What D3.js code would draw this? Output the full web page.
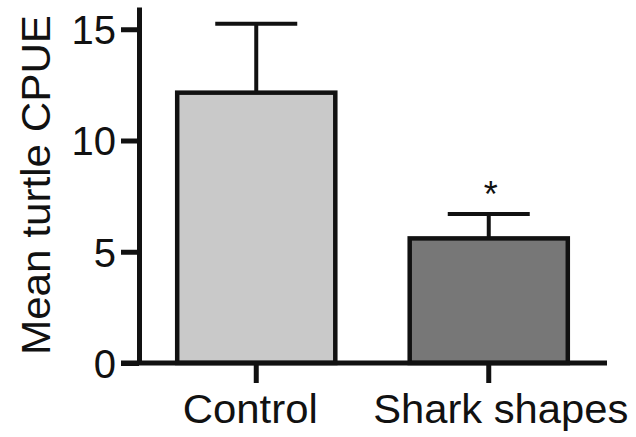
<!DOCTYPE html>
<html>
  <head>
    <meta charset="utf-8">
    <script src="https://d3js.org/d3.v7.min.js"></script>
    <style>
      body { margin: 0; background: #fff; }
      text { font-family: "Liberation Sans", Arial, sans-serif; fill: #111; }
    </style>
  </head>
<body>
  <script type="text/javascript">
    // values
    var groups = ["Control", "Shark shapes"];
    var means = [12.15, 5.6];
    var errs = [3.1, 1.1];
    var marks = ["", "*"];
    var yTicks = [0, 5, 10, 15];

    var fills = ["#c9c9c9", "#777777"];

    var width = 636, height = 437;

    var svg = d3.select("body")
      .append("svg")
        .attr("width", width)
        .attr("height", height);

    var y = d3.scaleLinear().domain([0, 16]).range([363, 7]);
    var x = d3.scaleBand().domain(groups).range([140, 605])
      .paddingInner(0.32).paddingOuter(0.16);

    var data = groups.map(function (g, i) {
      return { g: g, m: means[i], e: errs[i], mark: marks[i], fill: fills[i] };
    });

    // error bars (drawn first, bar covers lower part)
    var eb = svg.append("g").attr("stroke", "#111").attr("stroke-width", 4).attr("fill", "none");
    eb.selectAll(".stem").data(data).enter().append("line")
      .attr("x1", function (d) { return x(d.g) + x.bandwidth() / 2; })
      .attr("x2", function (d) { return x(d.g) + x.bandwidth() / 2; })
      .attr("y1", function (d) { return y(d.m); })
      .attr("y2", function (d) { return y(d.m + d.e); });
    eb.selectAll(".cap").data(data).enter().append("line")
      .attr("x1", function (d) { return x(d.g) + x.bandwidth() / 2 - 41; })
      .attr("x2", function (d) { return x(d.g) + x.bandwidth() / 2 + 41; })
      .attr("y1", function (d) { return y(d.m + d.e); })
      .attr("y2", function (d) { return y(d.m + d.e); });

    // bars
    svg.selectAll(".bar").data(data).enter().append("rect")
      .attr("x", function (d) { return x(d.g); })
      .attr("y", function (d) { return y(d.m); })
      .attr("width", x.bandwidth())
      .attr("height", function (d) { return y(0) - y(d.m); })
      .attr("fill", function (d) { return d.fill; })
      .attr("stroke", "#111")
      .attr("stroke-width", 4.5);

    // significance marks
    svg.selectAll(".mark").data(data).enter().append("text")
      .attr("x", function (d) { return x(d.g) + x.bandwidth() / 2 + 2; })
      .attr("y", function (d) { return y(d.m + d.e) - 7; })
      .attr("text-anchor", "middle")
      .style("font-size", "36px")
      .text(function (d) { return d.mark; });

    // y axis
    var yAxis = svg.append("g")
      .attr("transform", "translate(139,0)")
      .call(d3.axisLeft(y).tickValues(yTicks).tickSize(18).tickSizeOuter(0).tickPadding(5));
    yAxis.select(".domain").attr("stroke", "#111").attr("stroke-width", 5);
    yAxis.selectAll(".tick line").attr("stroke", "#111").attr("stroke-width", 5);
    yAxis.selectAll(".tick text")
      .style("font-size", "40px")
      .attr("fill", "#111")
      .attr("dy", "0.36em")
      .attr("font-family", null);

    // x axis
    var xAxis = svg.append("g")
      .attr("transform", "translate(0," + y(0) + ")")
      .call(d3.axisBottom(x).tickSize(20).tickSizeOuter(0).tickPadding(12));
    xAxis.select(".domain").remove();
    xAxis.append("line")
      .attr("x1", 121).attr("x2", 607)
      .attr("stroke", "#111").attr("stroke-width", 5);
    xAxis.selectAll(".tick line").attr("stroke", "#111").attr("stroke-width", 5);
    xAxis.selectAll(".tick text")
      .style("font-size", "40px")
      .attr("fill", "#111")
      .attr("font-family", null)
      .attr("dy", "0.71em")
      .attr("dx", function (d, i) { return i === 0 ? -6 : 12; })
      .attr("textLength", function (d, i) { return i === 0 ? 135 : 255; })
      .attr("lengthAdjust", "spacingAndGlyphs");

    // y axis title
    svg.append("text")
      .attr("transform", "translate(50,185) rotate(-90)")
      .attr("text-anchor", "middle")
      .style("font-size", "40px")
      .attr("textLength", 340)
      .attr("lengthAdjust", "spacingAndGlyphs")
      .text("Mean turtle CPUE");
  </script>
</body>
</html>
